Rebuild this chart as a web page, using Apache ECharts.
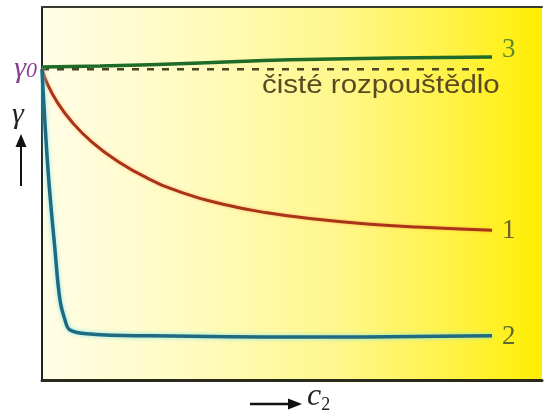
<!DOCTYPE html>
<html>
<head>
<meta charset="utf-8">
<script src="https://cdn.jsdelivr.net/npm/echarts@6/dist/echarts.min.js"></script>
<style>
html,body{margin:0;padding:0;background:#ffffff;}
#chart{width:545px;height:419px;}
</style>
</head>
<body>
<div id="chart"></div>
<script>
// c2 (arbitrary units) and gamma relative to gamma0 = 1
const curve1C = [0, 0.1, 0.3, 0.6, 1.0, 1.5, 2.1, 2.8, 3.6, 4.5, 5.5, 6.5, 7.5, 9];
const curve1G = [1.0, 0.955, 0.895, 0.83, 0.765, 0.705, 0.65, 0.603, 0.566, 0.538, 0.517, 0.502, 0.492, 0.482];
const curve2C = [0, 0.12, 0.26, 0.36, 0.46, 0.56, 0.96, 2.16, 5.16, 9];
const curve2G = [1.0, 0.676, 0.418, 0.257, 0.193, 0.161, 0.148, 0.142, 0.138, 0.142];
const curve3C = [0, 1.16, 3.16, 4.96, 9];
const curve3G = [1.007, 1.01, 1.02, 1.03, 1.039];
const solventC = [0, 9];
const solventG = [1.0, 1.0];
const curveNames = ['1', '2', '3'];
const solventLabel = 'čisté rozpouštědlo';

const zip = (a, b) => a.map((v, i) => [v, b[i]]);
const SERIF = "'Liberation Serif', 'Times New Roman', serif";

const chart = echarts.init(document.getElementById('chart'), null, {renderer: 'canvas'});
const endLab = (txt, color, dy) => ({
  show: true, formatter: txt, color: color, offset: [2, dy],
  fontFamily: SERIF, fontSize: 27
});
chart.setOption({
  animation: false,
  backgroundColor: '#ffffff',
  grid: {
    left: 42, right: 3, top: 7, bottom: 39, show: true, borderWidth: 0,
    backgroundColor: new echarts.graphic.LinearGradient(0, 0, 1, 0, [
      {offset: 0, color: '#fffde6'},
      {offset: 0.3, color: '#fffbc0'},
      {offset: 0.6, color: '#fff78a'},
      {offset: 0.85, color: '#fff23c'},
      {offset: 1, color: '#ffee00'}
    ])
  },
  xAxis: [{
    type: 'value', min: 0, max: 10, position: 'bottom',
    axisLine: {show: true, lineStyle: {color: '#2a2a1a', width: 3}},
    axisTick: {show: false}, axisLabel: {show: false}, splitLine: {show: false}
  }, {
    type: 'value', min: 0, max: 10, position: 'top',
    axisLine: {show: true, lineStyle: {color: '#3a3a30', width: 2}},
    axisTick: {show: false}, axisLabel: {show: false}, splitLine: {show: false}
  }],
  yAxis: {
    type: 'value', min: 0, max: 1.2, interval: 1,
    axisLine: {show: true, lineStyle: {color: '#222222', width: 2}},
    axisTick: {show: false}, splitLine: {show: false},
    axisLabel: {
      show: true, margin: 5,
      formatter: v => v === 1 ? '{g|γ}{s|0}' : '',
      rich: {
        g: {fontFamily: SERIF, fontStyle: 'italic', fontSize: 30, color: '#8b3f8f'},
        s: {fontFamily: SERIF, fontStyle: 'italic', fontSize: 22, color: '#8b3f8f', padding: [4, 0, 0, 0]}
      }
    }
  },
  series: [
    {
      type: 'line', data: zip(solventC, solventG), symbol: 'none', z: 2,
      lineStyle: {color: '#4a4420', width: 2.5, type: [7, 8]}
    },
    {
      type: 'line', data: zip(curve3C, curve3G), symbol: 'none', smooth: true, z: 3,
      lineStyle: {color: '#1e6a28', width: 3.5},
      endLabel: endLab(curveNames[2], '#5f8a2a', -7)
    },
    {
      type: 'line', data: zip(curve1C, curve1G), symbol: 'none', smooth: 0.5, z: 3,
      lineStyle: {color: '#a8341a', width: 3, shadowColor: 'rgba(255,140,60,0.6)', shadowBlur: 3},
      endLabel: endLab(curveNames[0], '#6a6030', 1)
    },
    {
      type: 'line', data: zip(curve2C, curve2G), symbol: 'none', smooth: 0.4, z: 3,
      lineStyle: {color: '#1f6a80', width: 3.5, shadowColor: 'rgba(120,230,240,0.9)', shadowBlur: 4},
      endLabel: endLab(curveNames[1], '#5a6a30', 1)
    }
  ],
  graphic: [
    {type: 'text', x: 262, y: 74, scaleX: 1.18, style: {text: solventLabel, fontFamily: "'Liberation Sans', Arial, sans-serif", fontSize: 25, fill: '#5a4a22'}},
    {type: 'text', left: 12, top: 100, style: {text: 'γ', fontFamily: SERIF, fontStyle: 'italic', fontSize: 30, fill: '#222222'}},
    {type: 'line', shape: {x1: 21, y1: 186, x2: 21, y2: 145}, style: {stroke: '#111111', lineWidth: 2}},
    {type: 'polygon', shape: {points: [[21, 134], [15.5, 147], [26.5, 147]]}, style: {fill: '#111111'}},
    {type: 'line', shape: {x1: 250, y1: 404, x2: 288, y2: 404}, style: {stroke: '#111111', lineWidth: 2.5}},
    {type: 'polygon', shape: {points: [[302, 404], [288, 398.5], [288, 409.5]]}, style: {fill: '#111111'}},
    {type: 'text', left: 307, top: 381, style: {rich: {c: {fontFamily: SERIF, fontStyle: 'italic', fontSize: 32, fill: '#222222'}, s: {fontFamily: SERIF, fontSize: 18, fill: '#222222', padding: [16, 0, 0, 0]}}, text: '{c|c}{s|2}'}}
  ]
});
</script>
</body>
</html>
